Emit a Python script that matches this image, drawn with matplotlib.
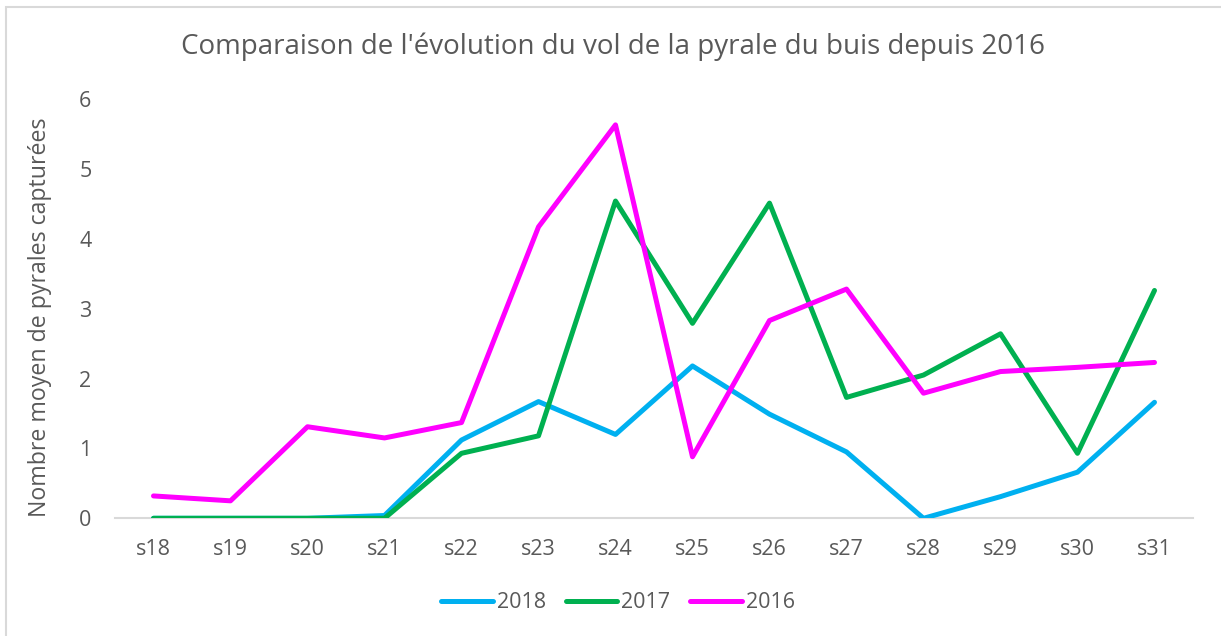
import matplotlib.pyplot as plt
from matplotlib.patches import Rectangle

plt.rcParams['font.family'] = ['Open Sans', 'DejaVu Sans']
plt.rcParams['lines.solid_capstyle'] = 'round'

semaines = ['s18', 's19', 's20', 's21', 's22', 's23', 's24',
            's25', 's26', 's27', 's28', 's29', 's30', 's31']
y2018 = [0, 0, 0, 0.04, 1.12, 1.67, 1.20, 2.18, 1.49, 0.95, 0, 0.31, 0.66, 1.66]
y2017 = [0, 0, 0, 0, 0.93, 1.18, 4.54, 2.79, 4.51, 1.73, 2.05, 2.64, 0.93, 3.26]
y2016 = [0.32, 0.25, 1.31, 1.15, 1.37, 4.17, 5.63, 0.88, 2.83, 3.28, 1.79, 2.10, 2.16, 2.23]

gris = '#595959'
W, H = 1221, 636
fig = plt.figure(figsize=(W / 100, H / 100), dpi=100)
fig.patches.append(Rectangle((6 / W, -0.1), 1.2, (H - 7) / H + 0.1,
                             transform=fig.transFigure, fill=False,
                             edgecolor='#D9D9D9', linewidth=1.5))

ax = fig.add_axes([115 / W, (H - 518.3) / H, (1193 - 115) / W, (518.3 - 99) / H])
x = range(len(semaines))
ax.plot(x, y2018, color='#00B0F0', lw=3.6, label='2018')
ax.plot(x, y2017, color='#00B050', lw=3.6, label='2017')
ax.plot(x, y2016, color='#FF00FF', lw=3.6, label='2016')

ax.set_xlim(-0.5, len(semaines) - 0.5)
ax.set_ylim(0, 6)
ax.set_yticks(range(7))
ax.set_xticks(list(x))
ax.set_xticklabels(semaines)
for s in ['top', 'right', 'left']:
    ax.spines[s].set_visible(False)
ax.spines['bottom'].set_color('#D9D9D9')
ax.spines['bottom'].set_linewidth(1.5)
ax.spines['bottom'].set_zorder(0)
ax.tick_params(length=0, labelsize=15.5, labelcolor=gris)
ax.tick_params(axis='x', pad=15)
ax.tick_params(axis='y', pad=17)

fig.text(0.5 + 0.002, (H - 47) / H, "Comparaison de l'évolution du vol de la pyrale du buis depuis 2016",
         ha='center', va='center', fontsize=20, color=gris)
fig.text(40 / W, (H - 317) / H, 'Nombre moyen de pyrales capturées', rotation=90,
         ha='center', va='center', fontsize=16.7, color=gris)

leg = fig.legend(loc='center', bbox_to_anchor=(618 / W, (H - 603) / H), ncol=3,
                 frameon=False, fontsize=15.5, handlelength=2.4, handletextpad=0.2,
                 columnspacing=0.9)
for t in leg.get_texts():
    t.set_color(gris)

fig.savefig('out.png', dpi=100)
